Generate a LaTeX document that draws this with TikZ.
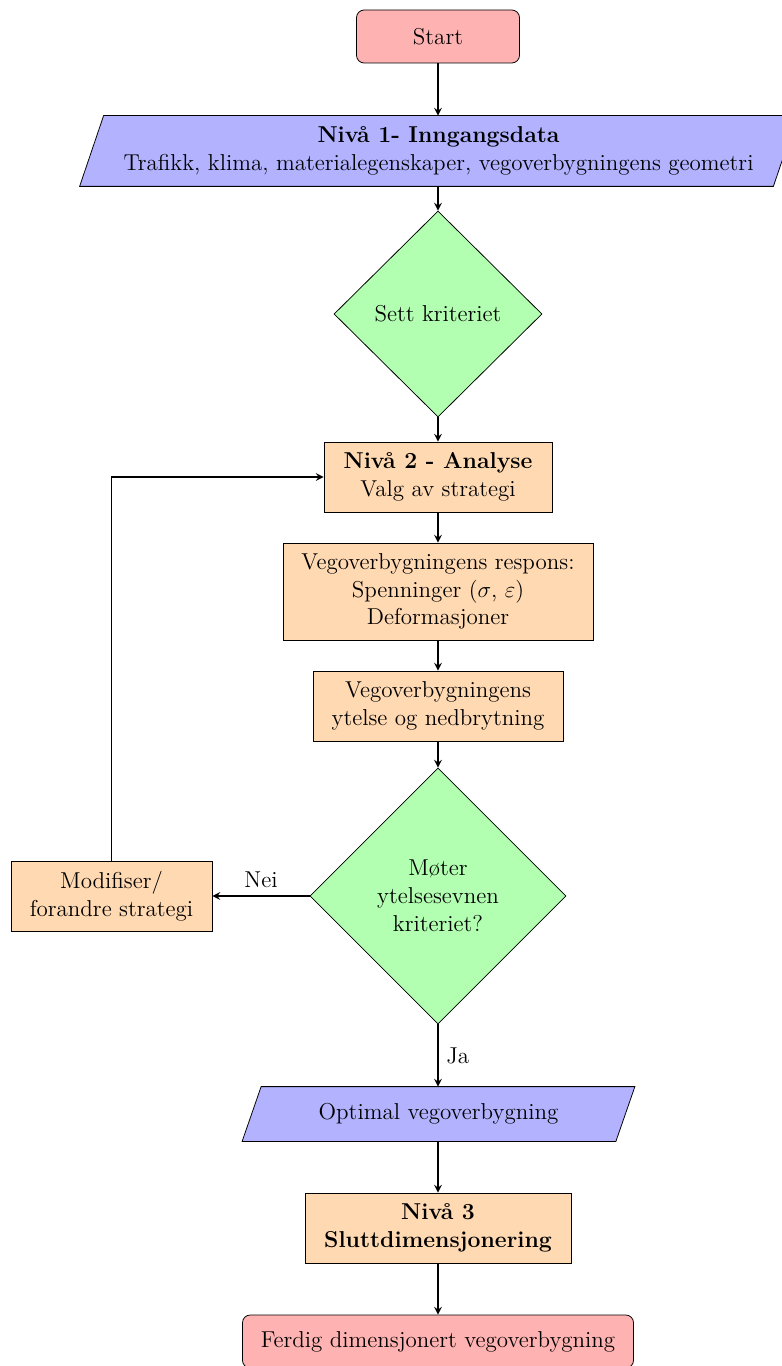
\documentclass[12pt,tikz,border=0pt]{standalone}
\usetikzlibrary{shapes.geometric,arrows,calc}
\newdimen\px \px=0.522pt
\tikzset{
 startstop/.style={rectangle, rounded corners=4pt, draw=black, fill=red!30, align=center, inner sep=2pt},
 io/.style={rectangle, align=center, inner sep=2pt},
 iofill/.style={draw=black, fill=blue!30},
 process/.style={rectangle, draw=black, fill=orange!30, align=center, inner sep=2pt},
 decision/.style={diamond, draw=black, fill=green!30, align=center, inner sep=1pt},
 arrow/.style={thick,->,>=stealth},
}
\begin{document}
\begin{tikzpicture}[x=\px,y=-\px]
\useasboundingbox (0,0) rectangle (782,1366);
\clip (0,0) rectangle (782,1366);
\node[startstop, minimum width=163\px, minimum height=53\px] (start) at (438,36.5) {Start};
\node[io, minimum width=693\px, minimum height=70\px] (in1) at (438.5,151) {\phantom{X}};
\filldraw[iofill] ($(in1.south west)+(-12,0)$) -- ($(in1.south east)+(-12,0)$) -- ($(in1.north east)+(12,0)$) -- ($(in1.north west)+(12,0)$) -- cycle;
\node[align=center] (in1text) at (in1.center) {\textbf{Nivå 1- Inngangsdata}\\Trafikk, klima, materialegenskaper, vegoverbygningens geometri};
\node[decision, minimum width=208\px, minimum height=206\px] (d1) at (438,314) {Sett kriteriet};
\node[process, minimum width=228\px, minimum height=70\px] (ana) at (438,477) {\textbf{Nivå 2 - Analyse}\\Valg av strategi};
\node[process, minimum width=310\px, minimum height=97\px] (resp) at (438,591.5) {Vegoverbygningens respons:\\Spenninger ($\sigma$, $\varepsilon$)\\Deformasjoner};
\node[process, minimum width=250\px, minimum height=70\px] (ytel) at (438,706) {Vegoverbygningens\\ytelse og nedbrytning};
\node[decision, minimum width=256\px, minimum height=256\px] (d2) at (438,896) {Møter\\ytelsesevnen\\kriteriet?};
\node[process, minimum width=201\px, minimum height=70\px] (mod) at (111.5,896) {Modifiser/\\forandre strategi};
\node[io, minimum width=373\px, minimum height=54\px] (opt) at (438.5,1114) {\phantom{X}};
\filldraw[iofill] ($(opt.south west)+(-9.5,0)$) -- ($(opt.south east)+(-9.5,0)$) -- ($(opt.north east)+(9.5,0)$) -- ($(opt.north west)+(9.5,0)$) -- cycle;
\node (opttext) at (opt.center) {Optimal vegoverbygning};
\node[process, minimum width=266\px, minimum height=70\px] (n3) at (438,1228) {\textbf{Nivå 3}\\\textbf{Sluttdimensjonering}};
\node[startstop, minimum width=391\px, minimum height=53\px] (end) at (438,1341.5) {Ferdig dimensjonert vegoverbygning};
\draw[arrow] (start) -- (start |- in1.north);
\draw[arrow] (d1 |- in1.south) -- (d1);
\draw[arrow] (d1) -- (ana);
\draw[arrow] (ana) -- (resp);
\draw[arrow] (resp) -- (ytel);
\draw[arrow] (ytel) -- (d2);
\draw[arrow] (d2) -- node[above] (nei) {Nei} (mod);
\draw[arrow] (d2) -- node[right] (ja) {Ja} (d2 |- opt.north);
\draw[arrow] (n3 |- opt.south) -- (n3);
\draw[arrow] (n3) -- (end);
\draw[arrow] (mod.north) |- (ana.west);
\end{tikzpicture}
\end{document}
